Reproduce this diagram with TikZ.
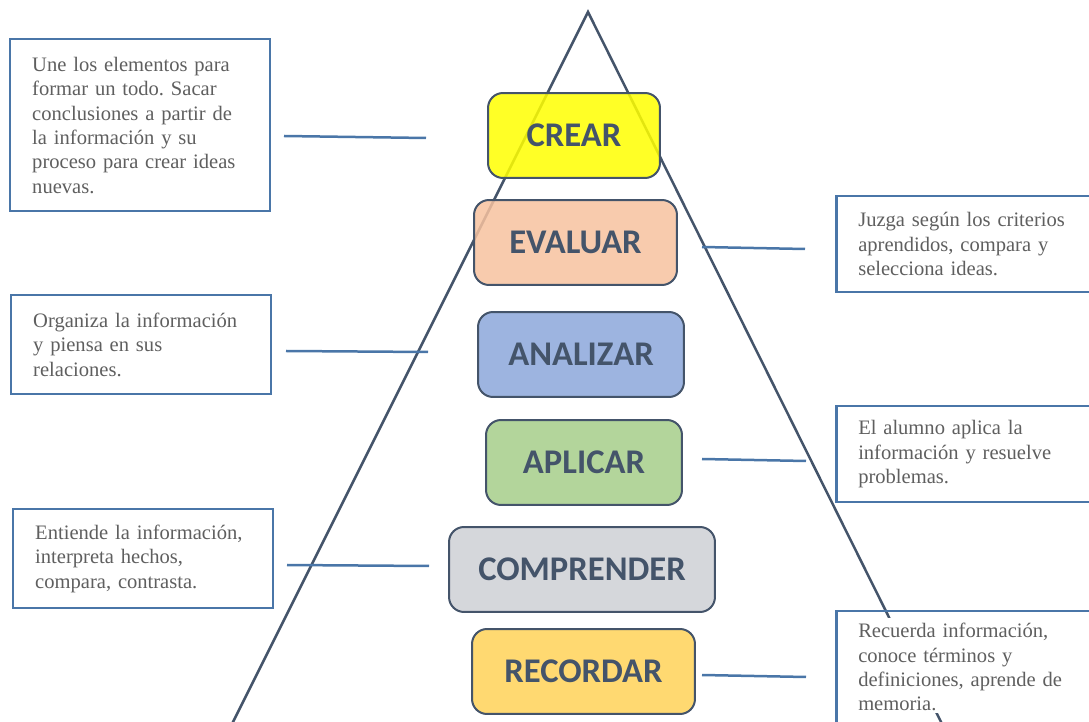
\documentclass[tikz,border=0pt]{standalone}
\usepackage{fontspec}
\setmainfont{Liberation Serif}
\newfontfamily\labelfont{Carlito}
\frenchspacing

\definecolor{slate}{HTML}{44546A}
\definecolor{steel}{HTML}{4A76A8}
\definecolor{notegray}{HTML}{5F5F5F}
\definecolor{crearfill}{HTML}{FFFF00}
\definecolor{evalfill}{HTML}{F7C29F}
\definecolor{analfill}{HTML}{8CA7DA}
\definecolor{aplifill}{HTML}{A6CE89}
\definecolor{compfill}{HTML}{CED0D5}
\definecolor{recofill}{HTML}{FFD258}

\tikzset{
  level/.style={draw=slate, line width=0.04cm, rounded corners=0.3cm,
    minimum height=1.7cm, fill opacity=0.85, text opacity=1,
    font=\labelfont\bfseries\fontsize{19.7}{24}\selectfont, text=slate},
  note/.style={draw=steel, line width=0.05cm, fill=white, anchor=north west,
    align=left, inner xsep=0.44cm, inner ysep=0.24cm,
    font=\fontsize{11.7}{13.9}\selectfont, text=notegray},
  link/.style={draw=steel, line width=0.05cm},
  tri/.style={draw=slate, line width=0.05cm},
}

\begin{document}
\begin{tikzpicture}[x=0.02cm, y=-0.02cm]
  \useasboundingbox (0,0) rectangle (1089,722);
  \clip (0,0) rectangle (1089,722);

  %% pyramid
  \draw[tri] (224,740) -- (588,12) -- (950,740);

  %% levels
  \node[level, fill=crearfill, minimum width=3.44cm] (crear) at (574,135.5) {CREAR};
  \node[level, fill=evalfill, minimum width=4.06cm] (evaluar) at (575.5,242.5) {EVALUAR};
  \node[level, fill=analfill, minimum width=4.12cm] (analizar) at (581,354.5) {ANALIZAR};
  \node[level, fill=aplifill, minimum width=3.92cm] (aplicar) at (584,462.5) {APLICAR};
  \node[level, fill=compfill, minimum width=5.32cm] (comprender) at (582,569.5) {COMPRENDER};
  \node[level, fill=recofill, minimum width=4.46cm] (recordar) at (583.5,671.5) {RECORDAR};

  %% notes, left side
  \node[note, text width=4.32cm, minimum height=3.44cm] (txtcrear) at (9,38)
    {Une los elementos para\\formar un todo. Sacar\\conclusiones a partir de\\la información y su\\proceso para crear ideas\\nuevas.};
  \node[note, text width=4.32cm, minimum height=1.98cm] (txtanalizar) at (10,294)
    {Organiza la información\\y piensa en sus\\relaciones.};
  \node[note, text width=4.32cm, minimum height=1.98cm] (txtcomprender) at (12,508)
    {Entiende la información,\\interpreta hechos,\\compara, contrasta.};

  %% notes, right side
  \node[note, text width=4.42cm, minimum height=1.92cm] (txtevaluar) at (835,195)
    {Juzga según los criterios\\aprendidos, compara y\\selecciona ideas.};
  \node[note, text width=4.42cm, minimum height=1.92cm] (txtaplicar) at (835,405)
    {El alumno aplica la\\información y resuelve\\problemas.};
  \fill[white] (846,618) rectangle (1089,713);
  \node[note, fill=none, text width=4.42cm] (txtrecordar) at (835,610)
    {Recuerda información,\\conoce términos y\\definiciones, aprende de\\memoria.};

  %% connectors
  \coordinate (fromcrear) at (284,136);
  \coordinate (tocrear) at (426,138);
  \coordinate (fromanalizar) at (286,351);
  \coordinate (toanalizar) at (428,352);
  \coordinate (fromcomprender) at (287,565);
  \coordinate (tocomprender) at (429,566);
  \coordinate (fromevaluar) at (702,247);
  \coordinate (toevaluar) at (805,249);
  \coordinate (fromaplicar) at (702,459);
  \coordinate (toaplicar) at (806,461);
  \coordinate (fromrecordar) at (702,675);
  \coordinate (torecordar) at (806,677);
  \draw[link] (fromcrear) -- (tocrear);
  \draw[link] (fromanalizar) -- (toanalizar);
  \draw[link] (fromcomprender) -- (tocomprender);
  \draw[link] (fromevaluar) -- (toevaluar);
  \draw[link] (fromaplicar) -- (toaplicar);
  \draw[link] (fromrecordar) -- (torecordar);
\end{tikzpicture}
\end{document}
